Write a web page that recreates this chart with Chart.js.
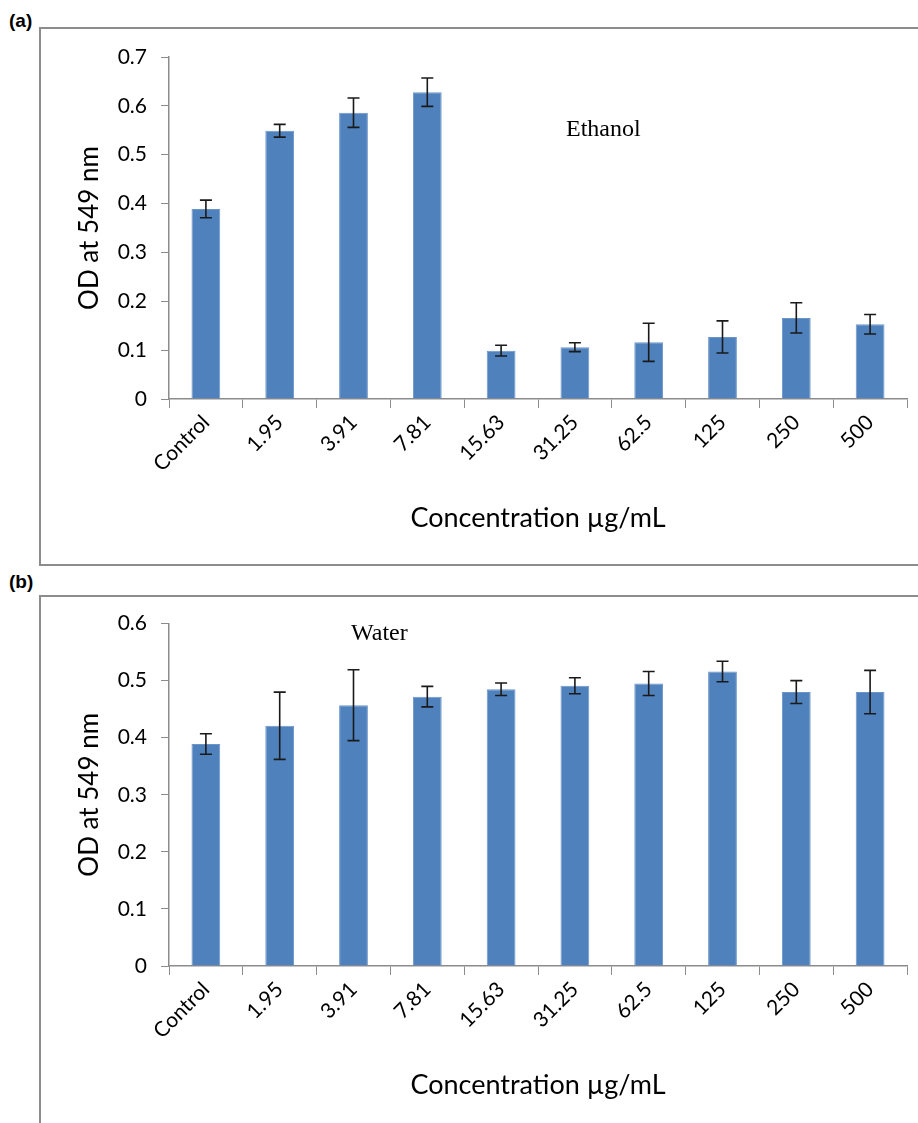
<!DOCTYPE html>
<html><head><meta charset="utf-8">
<script src="https://cdn.jsdelivr.net/npm/chart.js@4.4.1/dist/chart.umd.min.js"></script>
<style>
html,body{margin:0;padding:0;background:#fff;width:918px;height:1123px;overflow:hidden;position:relative;font-family:Arial,"Liberation Sans",sans-serif}
.box{position:absolute;border:2px solid #8c8c8c;border-right:none;box-sizing:border-box}
.plab{position:absolute;font-weight:bold;font-size:19px;color:#000;font-family:Arial,"Liberation Sans",sans-serif}
.note{position:absolute;font-family:"Liberation Serif","Times New Roman",serif;font-size:24px;color:#000;white-space:nowrap;line-height:28px}
.cv{position:absolute}
</style></head><body>
<div class="plab" style="left:9px;top:10px">(a)</div>
<div class="box" style="left:39px;top:27px;width:900px;height:539px"></div>
<div class="plab" style="left:9px;top:571px">(b)</div>
<div class="box" style="left:39px;top:595px;width:900px;height:560px"></div>
<div class="cv" style="left:40px;top:28px;width:878px;height:537px"><canvas id="ca"></canvas></div>
<div class="cv" style="left:40px;top:597px;width:878px;height:526px"><canvas id="cb"></canvas></div>
<div class="note" style="left:566px;top:114px">Ethanol</div>
<div class="note" style="left:351px;top:618px">Water</div>
<script>
const categories = ["Control","1.95","3.91","7.81","15.63","31.25","62.5","125","250","500"];
const ethanolValues = [0.389,0.549,0.586,0.628,0.099,0.106,0.116,0.127,0.166,0.153];
const ethanolErrors = [0.018,0.013,0.030,0.029,0.011,0.009,0.039,0.033,0.031,0.020];
const waterValues = [0.389,0.421,0.457,0.472,0.485,0.491,0.495,0.516,0.480,0.480];
const waterErrors = [0.018,0.059,0.062,0.018,0.011,0.014,0.021,0.018,0.020,0.038];
const yTitle = "OD at 549 nm";
const xTitle = "Concentration µg/mL";

const errorBarPlugin = {
  id:'errorBars',
  afterDatasetsDraw(chart){
    const errs = chart.options.plugins.errorBars.errors;
    const ds = chart.data.datasets[0].data;
    const meta = chart.getDatasetMeta(0);
    const y = chart.scales.y;
    const ctx = chart.ctx;
    ctx.save();
    ctx.strokeStyle = '#1a1a1a';
    ctx.lineWidth = 1.6;
    meta.data.forEach((bar,i)=>{
      const x = bar.x;
      const top = y.getPixelForValue(ds[i]+errs[i]);
      const bot = y.getPixelForValue(ds[i]-errs[i]);
      ctx.beginPath();
      ctx.moveTo(x,top); ctx.lineTo(x,bot);
      ctx.moveTo(x-6,top); ctx.lineTo(x+6,top);
      ctx.moveTo(x-6,bot); ctx.lineTo(x+6,bot);
      ctx.stroke();
    });
    ctx.restore();
  }
};

function makeChart(id, values, errors, yMax, pad, xHeight){
  return new Chart(document.getElementById(id), {
    type:'bar',
    data:{labels:categories, datasets:[{data:values, backgroundColor:'#4f81bd', borderColor:'#6b95c8', borderWidth:1, barPercentage:0.39, categoryPercentage:1.0}]},
    plugins:[errorBarPlugin],
    options:{
      responsive:true, maintainAspectRatio:false, animation:false,
      layout:{padding:pad},
      plugins:{legend:{display:false}, tooltip:{enabled:false}, errorBars:{errors:errors}},
      scales:{
        x:{
          grid:{display:true, drawOnChartArea:false, drawTicks:true, tickLength:9, color:'#8c8c8c', offset:true},
          border:{display:true, color:'#8c8c8c', width:1.5},
          ticks:{color:'#000', font:{family:'Lato', size:21}, minRotation:45, maxRotation:45, padding:2},
          title:{display:true, text:xTitle, color:'#000', font:{family:'Lato', size:27}},
          afterFit(s){ s.height = xHeight; }
        },
        y:{
          min:0, max:yMax,
          grid:{display:true, drawOnChartArea:false, drawTicks:true, tickLength:8, color:'#8c8c8c'},
          border:{display:true, color:'#8c8c8c', width:1.5},
          ticks:{stepSize:0.1, color:'#000', font:{family:'Lato', size:21}, padding:14},
          title:{display:true, text:yTitle, color:'#000', font:{family:'Lato', size:26}},
          afterFit(s){ s.width = 99; }
        }
      }
    }
  });
}
makeChart('ca', ethanolValues, ethanolErrors, 0.7, {left:30, top:29, right:11, bottom:27}, 139);
makeChart('cb', waterValues, waterErrors, 0.6, {left:30, top:26, right:11, bottom:18}, 139);
</script>
</body></html>
